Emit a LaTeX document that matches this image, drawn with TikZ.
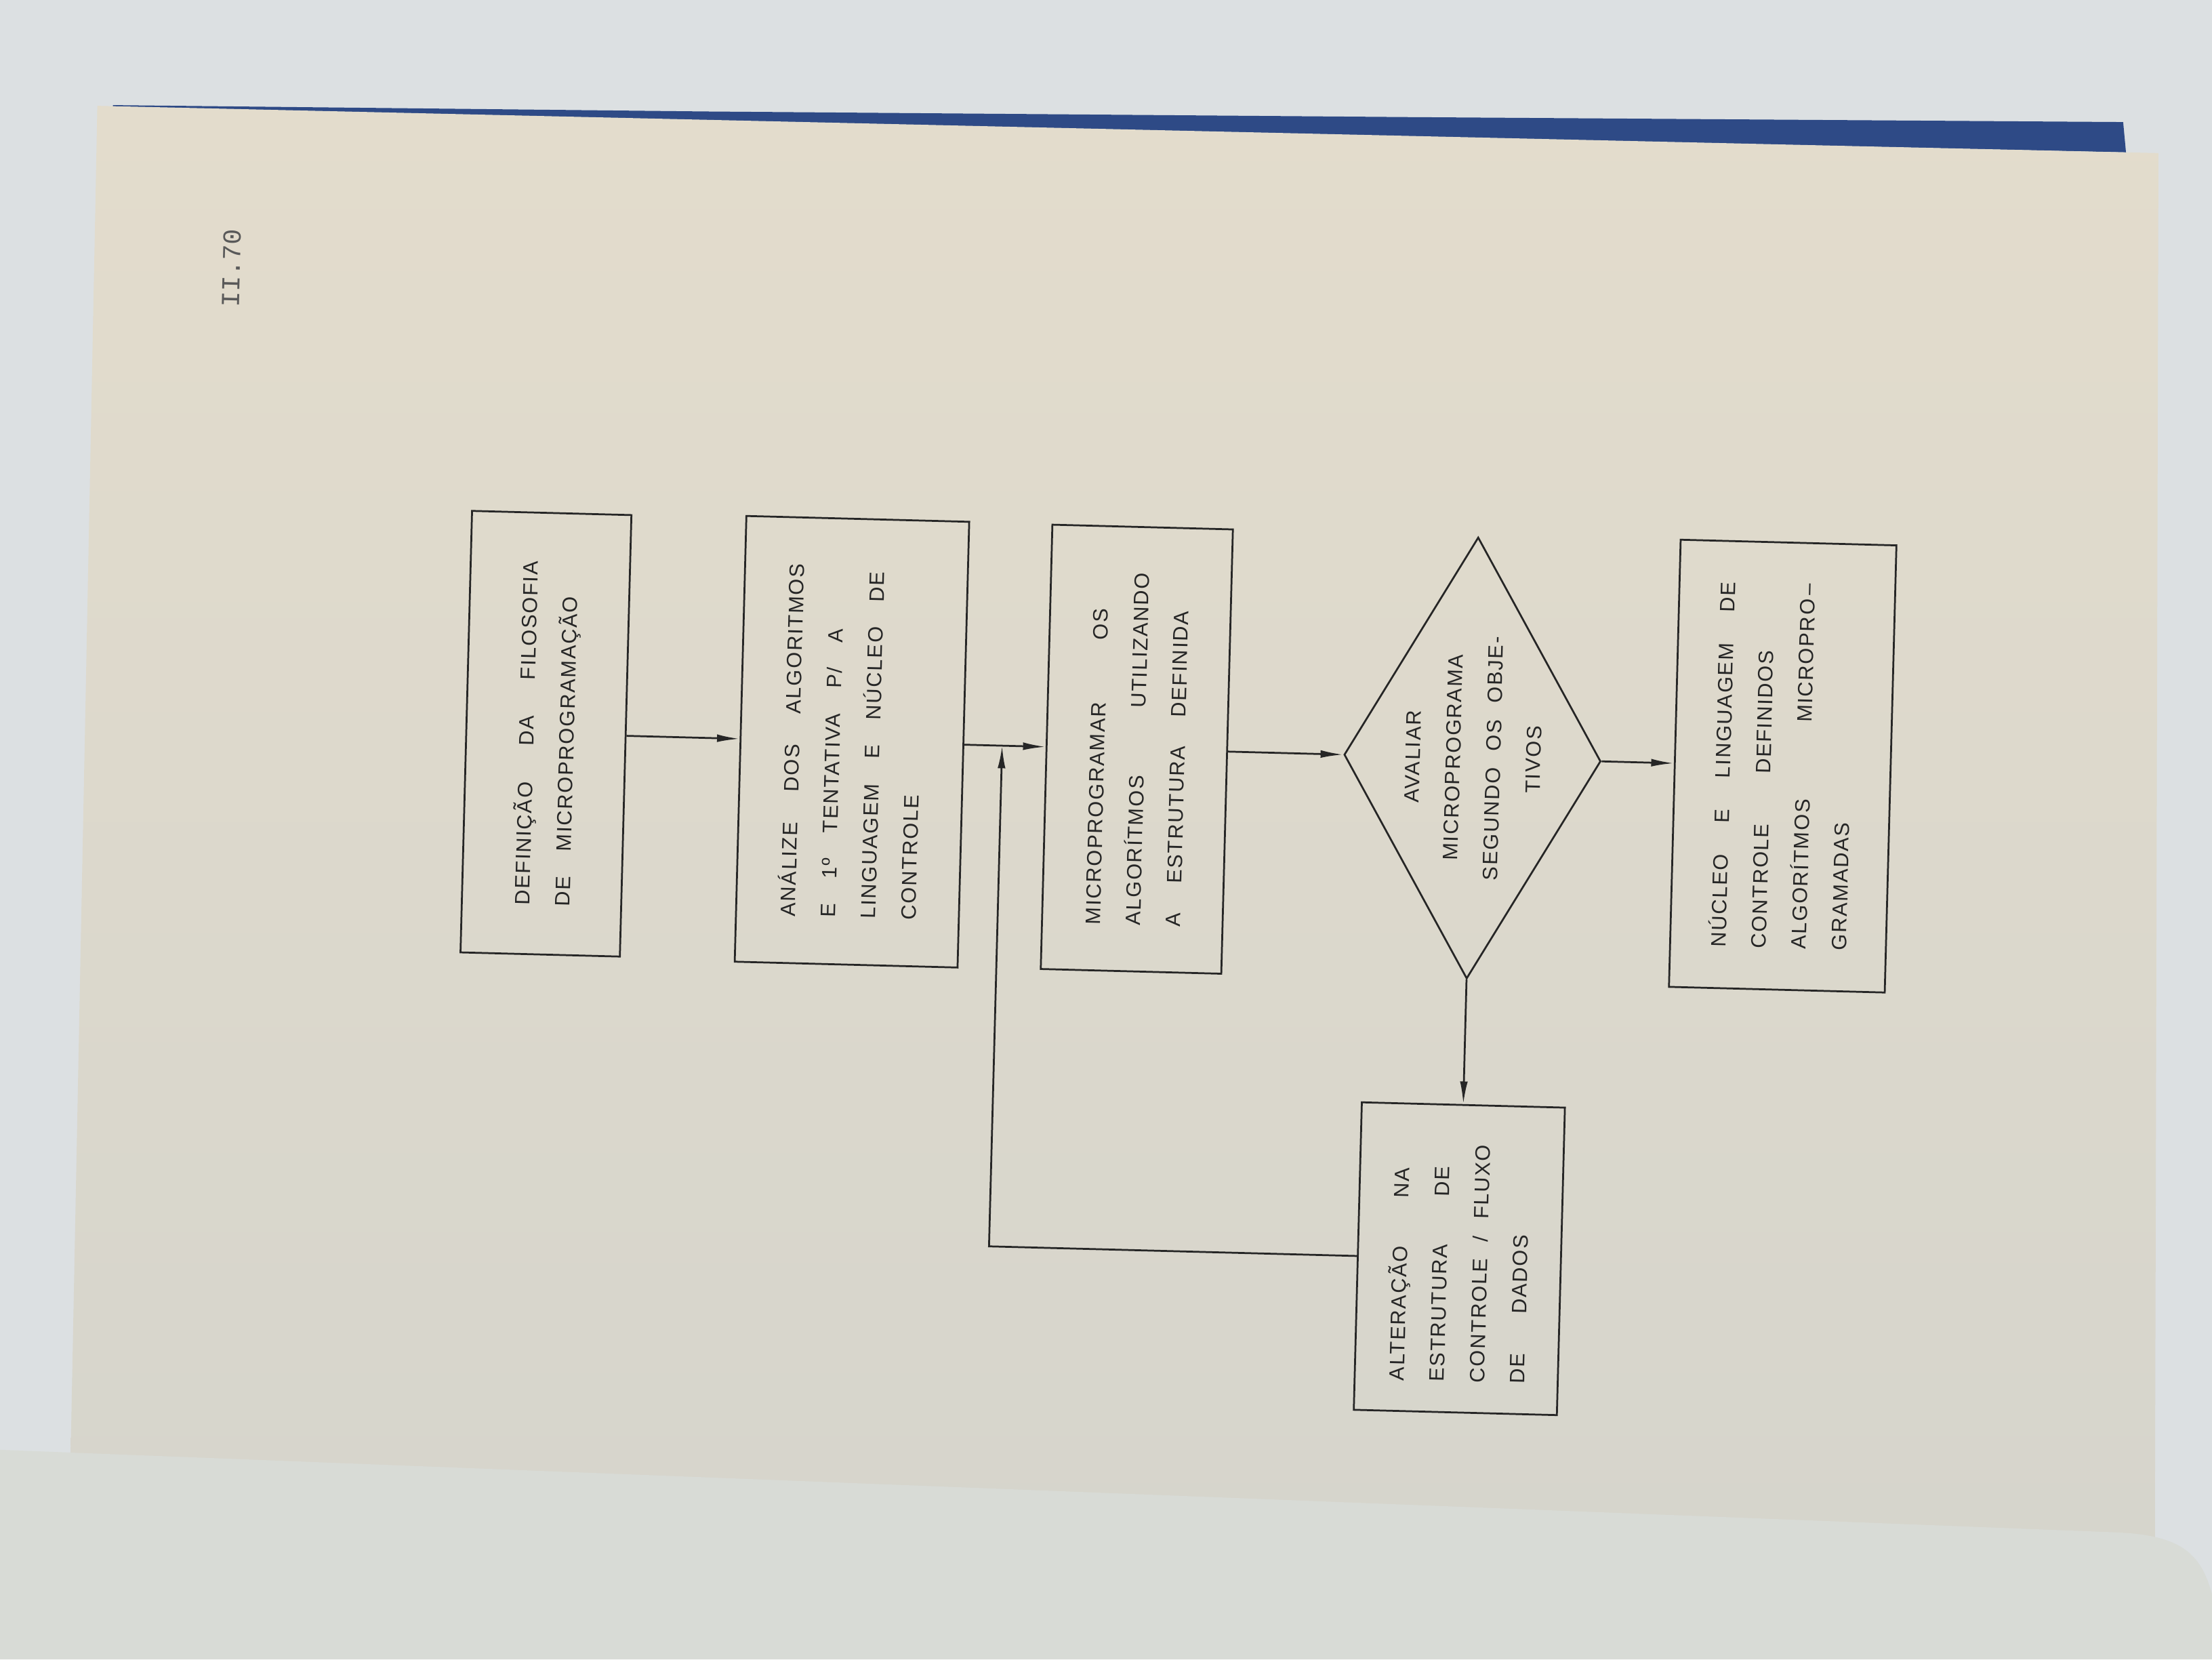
\documentclass[tikz,border=0pt]{standalone}
\usepackage{fontspec}
\setmainfont{Liberation Sans}
\newfontfamily\boxfont[LetterSpace=6]{Liberation Sans}
\newfontfamily\pagefont{Liberation Mono}
\usepackage{array}
\usetikzlibrary{arrows.meta, shapes.geometric}
\definecolor{wallgray}{HTML}{DCE0E2}
\definecolor{coverblue}{HTML}{2E4A86}
\definecolor{pagetop}{HTML}{E3DCCC}
\definecolor{pagebot}{HTML}{D6D5CC}
\definecolor{lowpage}{HTML}{D8DBD6}
\definecolor{inkgray}{HTML}{262626}
% box text, read upwards
\newcommand{\uptext}[2]{\rotatebox{90}{\boxfont\fontsize{8.4}{16.2}\selectfont
  \spaceskip=1.2em minus 0.4em\relax
  \begin{tabular}{@{}p{#1}@{}}#2\end{tabular}}}
\newcommand{\upcentred}[1]{\rotatebox{90}{\boxfont\fontsize{8.4}{16.2}\selectfont
  \spaceskip=0.8em\relax
  \begin{tabular}{@{}c@{}}#1\end{tabular}}}

\begin{document}
\begin{tikzpicture}[
  box/.style={draw=inkgray, line width=0.75pt, inner sep=0pt, text=inkgray},
  decision/.style={box, diamond},
  arr/.style={draw=inkgray, line width=0.75pt, -{Latex[length=3.2mm, width=1.1mm]}},
  pagenum/.style={text=black!65, font=\pagefont\fontsize{10.5}{13}\selectfont}]

  % Background and page
  \useasboundingbox (0,0) rectangle (31.36,-23.52);
  \fill[wallgray] (0,0) rectangle (31.36,-23.52);
  \fill[coverblue] (1.6,-1.49) -- (10,-1.58) -- (20,-1.66) -- (30.1,-1.73)
    -- (30.14,-2.16) -- (1.6,-1.53) -- cycle;
  \shade[top color=pagetop, bottom color=pagebot]
    (1.38,-1.50) -- (30.60,-2.17) -- (30.55,-21.8) -- (1.00,-20.7) -- cycle;
  \fill[lowpage] (0,-20.55) -- (30.0,-21.72)
    .. controls (30.9,-21.76) and (31.2,-22.0) .. (31.36,-22.6)
    -- (31.36,-23.52) -- (0,-23.52) -- cycle;

  % Page number
  \node[pagenum, rotate=88.5] (pagenr) at (3.28,-3.80) {II.70};

  % Flow chart
  \begin{scope}[shift={(7.74,-10.40)}, rotate=-1.5, transform shape]
    \node[box, minimum width=2.26cm, minimum height=6.26cm] (defin) at (0,0)
      {\uptext{4.88cm}{DEFINIÇÃO\hfill DA\hfill FILOSOFIA\\
        DE MICROPROGRAMAÇÃO}};
    \node[box, minimum width=3.16cm, minimum height=6.32cm] (analise) at (4.34,0)
      {\uptext{5.0cm}{ANÁLIZE\hfill DOS\hfill ALGORITMOS\\
        E 1º TENTATIVA P/ A\\
        LINGUAGEM E NÚCLEO DE\\
        CONTROLE}};
    \node[box, minimum width=2.56cm, minimum height=6.30cm] (micro) at (8.38,0)
      {\uptext{5.0cm}{MICROPROGRAMAR\hspace{3em}OS\\
        ALGORÍTMOS\hfill UTILIZANDO\\
        A\hspace{1.4em}ESTRUTURA\hspace{1.4em}DEFINIDA}};
    \node[decision, minimum width=3.64cm, minimum height=6.26cm,
      label={[name=avaliartxt, text=inkgray]center:\upcentred{AVALIAR\\
        MICROPROGRAMA\\ SEGUNDO OS OBJE-\\ TIVOS}}] (avaliar) at (13.14,0) {};
    \node[box, minimum width=3.06cm, minimum height=6.34cm] (nucleo) at (17.54,0)
      {\uptext{5.18cm}{NÚCLEO\hfill E\hfill LINGUAGEM\hfill DE\\
        CONTROLE\hspace{2.4em}DEFINIDOS\\
        ALGORÍTMOS\hfill MICROPRO\,–\\
        GRAMADAS}};
    \node[box, minimum width=2.88cm, minimum height=4.36cm] (alter) at (13.14,-7.10)
      {\uptext{3.5cm}{ALTERAÇÃO\hspace{2.3em}NA\\
        ESTRUTURA\hspace{2.3em}DE\\
        CONTROLE\hspace{0.8em}/\hspace{0.8em}FLUXO\\
        DE\hspace{1.9em}DADOS}};

    \coordinate (join) at (6.47,0);
    \coordinate (bend) at (6.47,-7.10);

    % Connectors
    \draw[arr] (defin) -- (analise);
    \draw[arr] (analise) -- (micro);
    \draw[arr] (micro) -- (avaliar);
    \draw[arr] (avaliar) -- (nucleo);
    \draw[arr] (avaliar) -- (alter);
    \draw[arr] (alter.west) -- (bend) -- (join);
  \end{scope}
\end{tikzpicture}
\end{document}
